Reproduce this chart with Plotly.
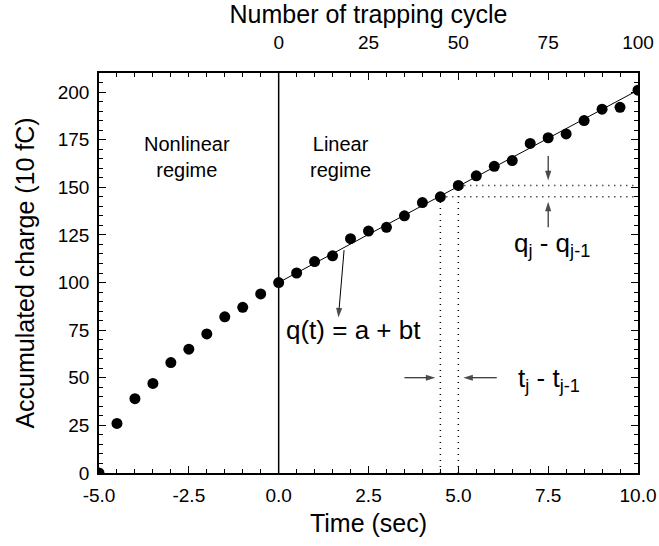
import plotly.graph_objects as go

# ---- data ----
time_s = [-5.0, -4.5, -4.0, -3.5, -3.0, -2.5, -2.0, -1.5, -1.0, -0.5,
          0.0, 0.5, 1.0, 1.5, 2.0, 2.5, 3.0, 3.5, 4.0, 4.5,
          5.0, 5.5, 6.0, 6.5, 7.0, 7.5, 8.0, 8.5, 9.0, 9.5, 10.0]
charge = [0, 26, 39, 47, 58, 65, 73, 82, 87, 94,
          100, 105, 111, 114, 123, 127, 129, 135, 142, 145,
          151, 156, 161, 164, 173, 176, 178, 185, 191, 192, 201]
cycles = [t * 10 for t in time_s]
fit_a = 100.0
fit_b = 10.1
fit_t = [0.0, 10.0]
fit_q = [fit_a + fit_b * t for t in fit_t]
x_ticks = [-5.0, -2.5, 0.0, 2.5, 5.0, 7.5, 10.0]
y_ticks = [0, 25, 50, 75, 100, 125, 150, 175, 200]
top_ticks = [0, 25, 50, 75, 100]
j = time_s.index(5.0)   # step highlighted by the dotted lines

FONT = "Liberation Sans, Arial, sans-serif"

fig = go.Figure()

# fit line
fig.add_trace(go.Scatter(x=fit_t, y=fit_q, mode="lines",
                         line=dict(color="black", width=1),
                         showlegend=False, hoverinfo="skip"))
# data points
fig.add_trace(go.Scatter(x=time_s, y=charge, mode="markers",
                         marker=dict(color="black", size=11),
                         showlegend=False))
# invisible trace for top axis
fig.add_trace(go.Scatter(x=cycles, y=charge, xaxis="x2", mode="markers",
                         marker=dict(opacity=0), showlegend=False,
                         hoverinfo="skip"))

# vertical line at t = 0
fig.add_shape(type="line", xref="x", yref="paper", x0=0, x1=0, y0=0, y1=1,
              line=dict(color="black", width=1.5))

dot = dict(color="black", width=1.5, dash="1px,5px")
# dotted vertical lines
fig.add_shape(type="line", xref="x", yref="y", x0=time_s[j-1], x1=time_s[j-1],
              y0=0, y1=charge[j-1], line=dot)
fig.add_shape(type="line", xref="x", yref="y", x0=time_s[j], x1=time_s[j],
              y0=0, y1=charge[j], line=dot)
# dotted horizontal lines
fig.add_shape(type="line", xref="x", yref="y", x0=time_s[j-1], x1=10,
              y0=charge[j-1], y1=charge[j-1], line=dot)
fig.add_shape(type="line", xref="x", yref="y", x0=time_s[j], x1=10,
              y0=charge[j], y1=charge[j], line=dot)

def arrow(x, y, ax, ay):
    # line from tail (ax, ay) to head (x, y), arrowhead marker at the head
    fig.add_trace(go.Scatter(
        x=[ax, x], y=[ay, y], mode="lines+markers",
        line=dict(color="black", width=1),
        marker=dict(symbol="arrow", size=[0, 10], color="black",
                    angleref="previous", standoff=5,
                    line=dict(width=0)),
        cliponaxis=False, showlegend=False, hoverinfo="skip"))

# q(t) arrow: from line down to label
arrow(1.65, 79, 1.82, 117)
# q_j - q_{j-1} arrows
arrow(7.5, charge[j], 7.5, 166.5)
arrow(7.5, charge[j-1], 7.5, 129)
# t_j - t_{j-1} arrows
arrow(time_s[j-1], 50, 3.5, 50)
arrow(time_s[j], 50, 6.07, 50)

def label(x, y, text, size):
    fig.add_annotation(x=x, y=y, xref="x", yref="y", text=text,
                       showarrow=False, font=dict(family=FONT, size=size,
                                                  color="black"))

label(-2.55, 166, "Nonlinear<br>regime", 20)
label(1.71, 166, "Linear<br>regime", 20)
label(2.07, 75, "q(t) = a + bt", 26)
label(7.62, 120, "q<sub>j</sub> - q<sub>j-1</sub>", 26)
label(7.53, 49, "t<sub>j</sub> - t<sub>j-1</sub>", 26)

axis_common = dict(showline=True, linecolor="black", linewidth=1.5,
                   ticks="inside", ticklen=7, tickwidth=1.2,
                   tickcolor="black", showgrid=False, zeroline=False,
                   automargin=False,
                   tickfont=dict(family=FONT, size=19, color="black"))

fig.update_layout(
    width=659, height=546,
    margin=dict(l=99, r=21, t=73, b=73),
    paper_bgcolor="white", plot_bgcolor="white",
    font=dict(family=FONT, color="black"),
    xaxis=dict(range=[-5, 10], tickmode="array", tickvals=x_ticks,
               ticktext=[f"{v:.1f}" for v in x_ticks],
               minor=dict(tickmode="linear", tick0=-5, dtick=0.5,
                          ticks="inside", ticklen=4, tickcolor="black"),
               title=dict(text="Time (sec)", font=dict(size=25, family=FONT),
                          standoff=10),
               ticklabelstandoff=4,
               **axis_common),
    xaxis2=dict(range=[-50, 100], overlaying="x", side="top", anchor="y",
                tickmode="array", tickvals=top_ticks,
                minor=dict(tickmode="linear", tick0=0, dtick=5,
                           ticks="inside", ticklen=4, tickcolor="black"),
                title=dict(text="Number of trapping cycle",
                           font=dict(size=25, family=FONT), standoff=11),
                ticklabelstandoff=15,
                **axis_common),
    yaxis=dict(range=[0, 210], tickmode="array", tickvals=y_ticks,
               mirror="ticks",
               minor=dict(tickmode="linear", tick0=0, dtick=5,
                          ticks="inside", ticklen=4, tickcolor="black"),
               title=dict(text="Accumulated charge (10 fC)",
                          font=dict(size=25, family=FONT), standoff=16),
               ticklabelstandoff=4,
               **axis_common),
)

fig.write_html("out.html")
